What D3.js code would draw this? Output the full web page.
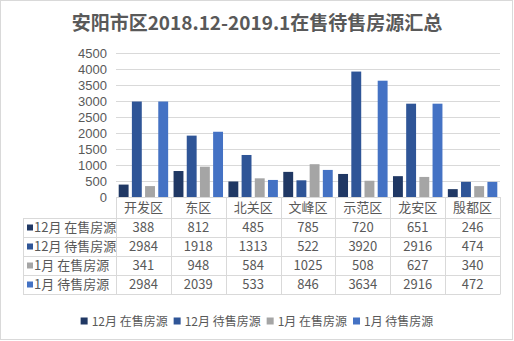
<!DOCTYPE html>
<html>
<head>
<meta charset="utf-8">
<script src="https://cdn.jsdelivr.net/npm/d3@7"></script>
<style>
  html, body { margin: 0; padding: 0; background: #fff; }
  svg { display: block; font-family: "Noto Sans CJK SC", "Noto Sans", sans-serif; }
</style>
</head>
<body>
<svg id="chart" width="514" height="341"></svg>
<script>
// Districts and series
const categories = ["开发区", "东区", "北关区", "文峰区", "示范区", "龙安区", "殷都区"];
const seriesNames = ["12月 在售房源", "12月 待售房源", "1月 在售房源", "1月 待售房源"];
const dec_onSale = [388, 812, 485, 785, 720, 651, 246];
const dec_pending = [2984, 1918, 1313, 522, 3920, 2916, 474];
const jan_onSale = [341, 948, 584, 1025, 508, 627, 340];
const jan_pending = [2984, 2039, 533, 846, 3634, 2916, 472];
const yTicks = [0, 500, 1000, 1500, 2000, 2500, 3000, 3500, 4000, 4500];
const colors = ["#203864", "#2f5597", "#a5a5a5", "#4472c4"];

const seriesValues = [dec_onSale, dec_pending, jan_onSale, jan_pending];

const svg = d3.select("#chart");
const W = 514, H = 341;
const textColor = "#595959";
const lineColor = "#d9d9d9";

// outer frame
svg.append("rect")
  .attr("x", 0.5).attr("y", 0.5).attr("width", W - 2).attr("height", H - 2)
  .attr("fill", "#fff").attr("stroke", lineColor);

// title
svg.append("text")
  .attr("x", 257).attr("y", 30)
  .attr("text-anchor", "middle")
  .attr("font-size", 19).attr("font-weight", "bold")
  .attr("fill", textColor)
  .text("安阳市区2018.12-2019.1在售待售房源汇总");

const plotLeft = 116, plotRight = 500, plotTop = 53, plotBottom = 197;

const y = d3.scaleLinear().domain([0, 4500]).range([plotBottom, plotTop]);
const x0 = d3.scaleBand().domain(categories).range([plotLeft, plotRight]).padding(0);
const x1 = d3.scaleBand().domain(d3.range(seriesNames.length))
  .range([2.7, x0.bandwidth() - 2.7]).paddingInner(0.25);

// gridlines
svg.append("g").selectAll("line").data(yTicks.filter(d => d > 0)).join("line")
  .attr("x1", plotLeft).attr("x2", plotRight)
  .attr("y1", d => Math.round(y(d)) + 0.5).attr("y2", d => Math.round(y(d)) + 0.5)
  .attr("stroke", lineColor).attr("stroke-width", 1);

// y axis labels
const yAxis = d3.axisLeft(y).tickValues(yTicks).tickFormat(d3.format("d")).tickSize(0).tickPadding(0);
const gy = svg.append("g").attr("transform", `translate(107,0)`).call(yAxis);
gy.select(".domain").remove();
gy.selectAll("text").attr("font-size", 13).attr("fill", textColor)
  .attr("font-family", "'Liberation Sans', Arial, sans-serif");

// bars
const groups = svg.append("g").selectAll("g").data(categories).join("g")
  .attr("transform", d => `translate(${x0(d)},0)`);
groups.selectAll("rect")
  .data((d, i) => seriesValues.map((vals, s) => ({ s, v: vals[i] })))
  .join("rect")
  .attr("x", d => x1(d.s))
  .attr("width", x1.bandwidth())
  .attr("y", d => y(d.v))
  .attr("height", d => y(0) - y(d.v))
  .attr("fill", d => colors[d.s]);

// data table
const tableLeft = 23, rowTop = 218, rowH = 19;
const tbl = svg.append("g");
// horizontal lines
tbl.append("line").attr("x1", plotLeft).attr("x2", plotRight)
  .attr("y1", plotBottom + 0.5).attr("y2", plotBottom + 0.5).attr("stroke", lineColor);
d3.range(seriesNames.length + 1).forEach(r => {
  const yy = Math.round(rowTop + r * rowH) + 0.5;
  tbl.append("line").attr("x1", tableLeft).attr("x2", plotRight)
    .attr("y1", yy).attr("y2", yy).attr("stroke", lineColor);
});
const tableBottom = Math.round(rowTop + seriesNames.length * rowH) + 0.5;
// vertical lines
tbl.append("line").attr("x1", tableLeft + 0.5).attr("x2", tableLeft + 0.5)
  .attr("y1", rowTop).attr("y2", tableBottom).attr("stroke", lineColor);
categories.concat([null]).forEach((c, i) => {
  const xx = Math.round(c ? x0(c) : plotRight) + 0.5;
  tbl.append("line").attr("x1", xx).attr("x2", xx)
    .attr("y1", plotBottom).attr("y2", tableBottom).attr("stroke", lineColor);
});
// category headers
tbl.selectAll("text.cat").data(categories).join("text")
  .attr("class", "cat")
  .attr("x", d => x0(d) + x0.bandwidth() / 2)
  .attr("y", 212)
  .attr("text-anchor", "middle").attr("font-size", 13).attr("fill", textColor)
  .text(d => d);
// row labels + values
seriesNames.forEach((name, r) => {
  const cy = rowTop + r * rowH + rowH / 2;
  tbl.append("rect").attr("x", 27).attr("y", cy - 3).attr("width", 6).attr("height", 6)
    .attr("fill", colors[r]);
  tbl.append("text").attr("x", 34).attr("y", cy + 4.5)
    .attr("font-size", 13).attr("fill", textColor).text(name);
  tbl.selectAll(null).data(seriesValues[r]).join("text")
    .attr("x", (d, i) => x0(categories[i]) + x0.bandwidth() / 2)
    .attr("y", cy + 4.5)
    .attr("text-anchor", "middle").attr("font-size", 13).attr("fill", textColor)
    .text(d => d);
});

// legend
const legend = svg.append("g");
let lx = 0;
seriesNames.forEach((name, i) => {
  const g = legend.append("g");
  g.append("rect").attr("x", 0).attr("y", -9.5).attr("width", 7).attr("height", 7).attr("fill", colors[i]);
  const t = g.append("text").attr("x", 11).attr("y", -1.5)
    .attr("font-size", 12).attr("fill", textColor).text(name);
  const w = t.node().getComputedTextLength();
  g.attr("transform", `translate(${lx},0)`);
  lx += 11 + w + 6;
});
const totalW = lx - 6;
legend.attr("transform", `translate(${(W - totalW) / 2},327)`);
</script>
</body>
</html>
